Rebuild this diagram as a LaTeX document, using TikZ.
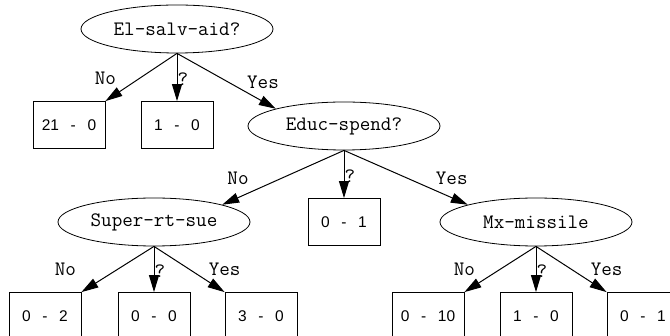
\documentclass[tikz,border=0pt]{standalone}
\usepackage{fontspec}
\setmainfont{Liberation Sans}
\usetikzlibrary{positioning,shapes.geometric,arrows.meta}

\begin{document}
\begin{tikzpicture}[test/.style = {draw, ellipse, line width=0.8pt, inner sep=0pt, minimum width=192pt, minimum height=48pt, font=\ttfamily\fontsize{20.5}{24}\selectfont},
	leaf/.style = {draw, rectangle, line width=0.8pt, minimum width=72pt, minimum height=47pt, font=\rmfamily\fontsize{15.5}{18}\selectfont},
	lbl/.style = {font=\ttfamily\fontsize{20.5}{24}\selectfont},
	qlbl/.style = {lbl, pos=.54, right, inner xsep=0pt},
	on grid, line width=1pt, >={Triangle[length=17pt,width=10pt]}]
	\useasboundingbox (0,0) rectangle (670pt,-336pt);
	\node[test] (1) at (177pt,-29pt) {El-salv-aid?};
	\node[leaf] (2) [below left=96pt and 108pt of 1] {21\hspace{.75em}-\hspace{.75em}0};
	\node[leaf] (3) [below=96pt of 1] {1\hspace{.75em}-\hspace{.75em}0};
	\node[test] (4) [below right=97pt and 167pt of 1] {Educ-spend?};
	\node[test] (5) [below left=96pt and 190pt of 4] {Super-rt-sue};
	\node[leaf] (6) [below=96pt of 4] {0\hspace{.75em}-\hspace{.75em}1};
	\node[test] (7) [below right=96pt and 192pt of 4] {Mx-missile};
	\node[leaf] (8) [below left=94pt and 109pt of 5] {0\hspace{.75em}-\hspace{.75em}2};
	\node[leaf] (9) [below=94pt of 5] {0\hspace{.75em}-\hspace{.75em}0};
	\node[leaf] (10) [below right=94pt and 107pt of 5] {3\hspace{.75em}-\hspace{.75em}0};
	\node[leaf] (11) [below left=94pt and 108pt of 7] {0\hspace{.75em}-\hspace{.75em}10};
	\node[leaf] (12) [below=94pt of 7] {1\hspace{.75em}-\hspace{.75em}0};
	\node[leaf] (13) [below right=94pt and 107pt of 7] {0\hspace{.75em}-\hspace{.75em}1};
	\draw[->] (1.south) -- node[lbl, at end, above=13pt] {No} (2.north east);
	\draw[->] (1.south) -- node[qlbl] {?} (3.north);
	\draw[->] (1.south) -- node[lbl, pos=.87, above=9pt] {Yes} (4.north west);
	\draw[->] (4.south) -- node[lbl, pos=.87, above=9pt] {No} (5.north east);
	\draw[->] (4.south) -- node[qlbl] {?} (6.north);
	\draw[->] (4.south) -- node[lbl, pos=.87, above=9pt] {Yes} (7.north west);
	\draw[->] (5.south) -- node[lbl, at end, above=13pt, xshift=-16pt] {No} (8.north east);
	\draw[->] (5.south) -- node[qlbl] {?} (9.north);
	\draw[->] (5.south) -- node[lbl, at end, above=13pt] {Yes} (10.north west);
	\draw[->] (7.south) -- node[lbl, at end, above=13pt] {No} (11.north east);
	\draw[->] (7.south) -- node[qlbl] {?} (12.north);
	\draw[->] (7.south) -- node[lbl, at end, above=13pt] {Yes} (13.north west);
\end{tikzpicture}
\end{document}
